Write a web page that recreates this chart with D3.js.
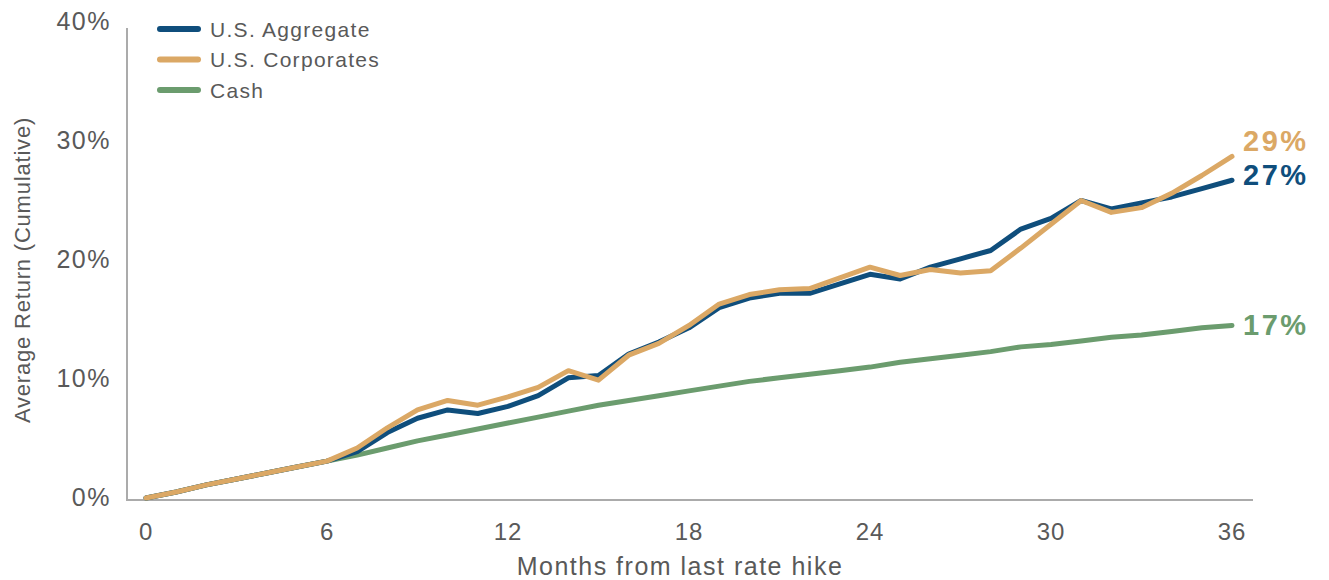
<!DOCTYPE html>
<html>
<head>
<meta charset="utf-8">
<script src="https://cdn.jsdelivr.net/npm/d3@7"></script>
<style>
  body { margin: 0; background: #fff; }
  text { font-family: "Liberation Sans", Arial, sans-serif; fill: #595959; }
</style>
</head>
<body>
<div id="chart"></div>
<script>
// months since the last hike, 0..36
var months = d3.range(0, 37);

// cumulative average return, %
var aggregate = [0, 0.5, 1.1, 1.6, 2.1, 2.6, 3.1, 3.9, 5.5, 6.7, 7.4, 7.1, 7.7, 8.6, 10.1, 10.3, 12.1, 13.1, 14.3,
    16.0, 16.8, 17.2, 17.2, 18.0, 18.8, 18.4, 19.4, 20.1, 20.8, 22.6, 23.5, 25.0, 24.3, 24.8, 25.3, 26.0, 26.7];
var corporates = [0, 0.5, 1.1, 1.6, 2.1, 2.6, 3.1, 4.2, 5.9, 7.4, 8.2, 7.8, 8.5, 9.3, 10.7, 9.9, 12.0, 13.0, 14.5,
    16.3, 17.1, 17.5, 17.6, 18.5, 19.4, 18.7, 19.2, 18.9, 19.1, 21.0, 23.0, 25.0, 24.0, 24.4, 25.6, 27.1, 28.7];
var cash = [0, 0.5, 1.1, 1.6, 2.1, 2.6, 3.1, 3.6, 4.2, 4.8, 5.3, 5.8, 6.3, 6.8, 7.3, 7.8, 8.2, 8.6, 9.0,
    9.4, 9.8, 10.1, 10.4, 10.7, 11.0, 11.4, 11.7, 12.0, 12.3, 12.7, 12.9, 13.2, 13.5, 13.7, 14.0, 14.3, 14.5];

var seriesNames = ["U.S. Aggregate", "U.S. Corporates", "Cash"];
var endLabels = ["27%", "29%", "17%"];
var xTicks = [0, 6, 12, 18, 24, 30, 36];
var yTicks = [0, 10, 20, 30, 40];

var colors = ["#0f4e7c", "#dba865", "#6b9c6e"];
var seriesValues = [aggregate, corporates, cash];

var width = 1329, height = 580;

var x = d3.scaleLinear().domain([0, 36]).range([146, 1232]);
var y = d3.scaleLinear().domain([0, 40]).range([498, 22]);

var svg = d3.select("#chart").append("svg")
    .attr("width", width)
    .attr("height", height);

// axis lines (no ticks)
svg.append("line")
    .attr("x1", 127).attr("x2", 127)
    .attr("y1", 28).attr("y2", 500)
    .attr("stroke", "#ababab").attr("stroke-width", 2);
svg.append("line")
    .attr("x1", 126).attr("x2", 1253)
    .attr("y1", 500).attr("y2", 500)
    .attr("stroke", "#ababab").attr("stroke-width", 2);

// y tick labels
svg.append("g").selectAll("text")
    .data(yTicks)
    .enter().append("text")
    .attr("x", 111)
    .attr("y", function (d) { return y(d) + 8; })
    .attr("text-anchor", "end")
    .style("font-size", "25px")
    .style("letter-spacing", "1.5px")
    .text(function (d) { return d + "%"; });

// x tick labels
svg.append("g").selectAll("text")
    .data(xTicks)
    .enter().append("text")
    .attr("x", function (d) { return x(d); })
    .attr("y", 540)
    .attr("text-anchor", "middle")
    .style("font-size", "24px")
    .style("letter-spacing", "0.8px")
    .text(function (d) { return d; });

// axis titles
svg.append("text")
    .attr("transform", "translate(30,270) rotate(-90)")
    .attr("text-anchor", "middle")
    .style("font-size", "22px")
    .style("letter-spacing", "0.8px")
    .text("Average Return (Cumulative)");

svg.append("text")
    .attr("x", 680)
    .attr("y", 575)
    .attr("text-anchor", "middle")
    .style("font-size", "25px")
    .style("letter-spacing", "1.5px")
    .text("Months from last rate hike");

var line = d3.line()
    .x(function (d, i) { return x(months[i]); })
    .y(function (d) { return y(d); });

// draw cash first, then aggregate, corporates on top
[2, 0, 1].forEach(function (k) {
    svg.append("path")
        .datum(seriesValues[k])
        .attr("fill", "none")
        .attr("stroke", colors[k])
        .attr("stroke-width", 5)
        .attr("stroke-linejoin", "round")
        .attr("stroke-linecap", "round")
        .attr("d", line);
});

// end labels
var endOffsets = [5, -5, 10];
seriesValues.forEach(function (vals, k) {
    svg.append("text")
        .attr("x", 1243)
        .attr("y", y(vals[vals.length - 1]) + endOffsets[k])
        .style("font-size", "29px")
        .style("font-weight", "bold")
        .style("letter-spacing", "2.5px")
        .style("fill", colors[k])
        .text(endLabels[k]);
});

// legend
var legend = svg.append("g").attr("transform", "translate(158,29)");
seriesNames.forEach(function (name, k) {
    var g = legend.append("g").attr("transform", "translate(0," + (k * 30.5) + ")");
    g.append("line")
        .attr("x1", 2).attr("x2", 40)
        .attr("stroke", colors[k])
        .attr("stroke-width", 6)
        .attr("stroke-linecap", "round");
    g.append("text")
        .attr("x", 52)
        .attr("y", 7.5)
        .style("font-size", "21px")
        .style("letter-spacing", "1.3px")
        .text(name);
});
</script>
</body>
</html>
